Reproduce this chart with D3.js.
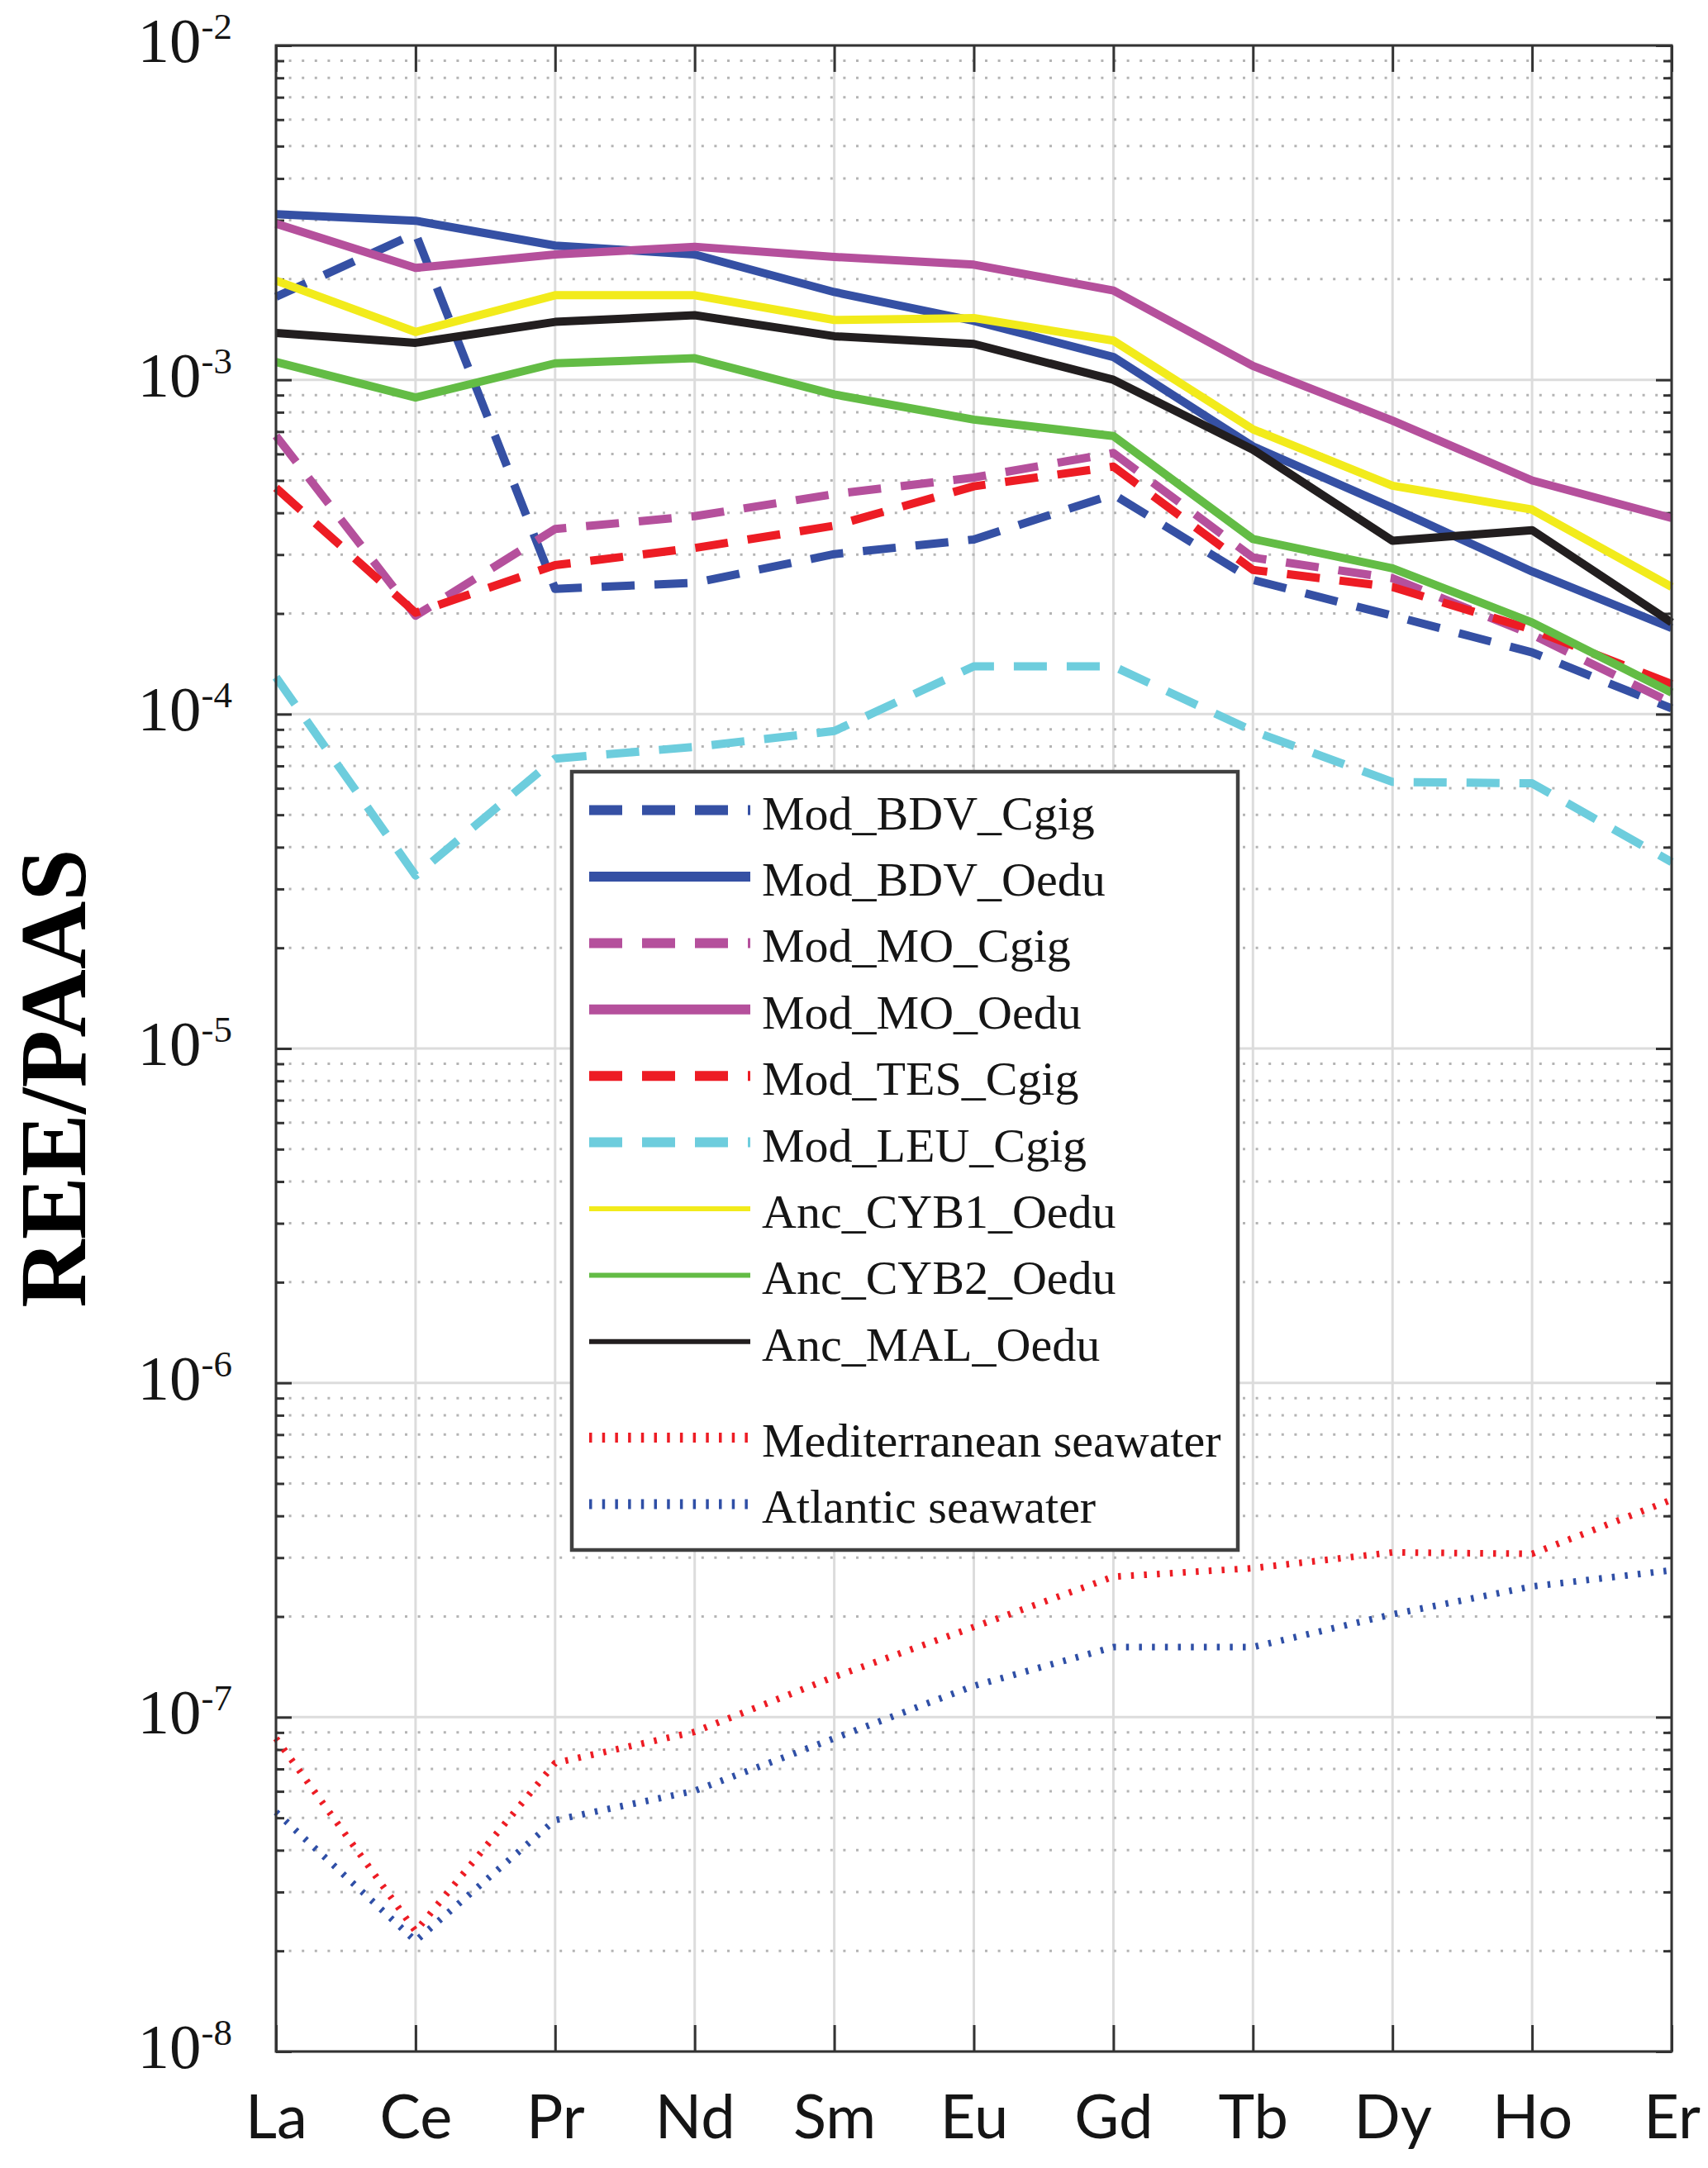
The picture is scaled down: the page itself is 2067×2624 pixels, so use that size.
<!DOCTYPE html>
<html>
<head>
<meta charset="utf-8">
<script src="https://cdn.jsdelivr.net/npm/d3@7/dist/d3.min.js"></script>
<style>
  html, body { margin: 0; padding: 0; background: #fff; }
  svg { display: block; }
</style>
</head>
<body>
<svg id="chart" width="2067" height="2624"></svg>
<script>
// ---------------- DATA ----------------
const categories = ["La","Ce","Pr","Nd","Sm","Eu","Gd","Tb","Dy","Ho","Er"];

const modBDVCgig = [1.77e-3, 2.74e-3, 2.37e-4, 2.47e-4, 3.01e-4, 3.33e-4, 4.54e-4, 2.52e-4, 1.97e-4, 1.53e-4, 1.04e-4];
const modBDVOedu = [3.13e-3, 2.99e-3, 2.52e-3, 2.37e-3, 1.83e-3, 1.50e-3, 1.17e-3, 6.32e-4, 4.14e-4, 2.67e-4, 1.81e-4];
const modMOCgig  = [6.8e-4, 1.97e-4, 3.58e-4, 3.91e-4, 4.55e-4, 5.1e-4, 6.04e-4, 2.94e-4, 2.55e-4, 1.73e-4, 1.08e-4];
const modMOOedu  = [2.93e-3, 2.16e-3, 2.37e-3, 2.50e-3, 2.33e-3, 2.21e-3, 1.85e-3, 1.10e-3, 7.55e-4, 5.0e-4, 3.86e-4];
const modTESCgig = [4.75e-4, 2.01e-4, 2.79e-4, 3.14e-4, 3.66e-4, 4.8e-4, 5.5e-4, 2.70e-4, 2.40e-4, 1.79e-4, 1.23e-4];
const modLEUCgig = [1.29e-4, 3.29e-5, 7.36e-5, 7.98e-5, 8.9e-5, 1.39e-4, 1.39e-4, 8.9e-5, 6.27e-5, 6.21e-5, 3.61e-5];
const ancCYB1Oedu = [1.98e-3, 1.39e-3, 1.79e-3, 1.79e-3, 1.51e-3, 1.53e-3, 1.31e-3, 7.11e-4, 4.82e-4, 4.09e-4, 2.40e-4];
const ancCYB2Oedu = [1.13e-3, 8.85e-4, 1.12e-3, 1.16e-3, 9.04e-4, 7.6e-4, 6.79e-4, 3.34e-4, 2.73e-4, 1.88e-4, 1.16e-4];
const ancMALOedu  = [1.38e-3, 1.29e-3, 1.49e-3, 1.56e-3, 1.35e-3, 1.28e-3, 1.0e-3, 6.18e-4, 3.30e-4, 3.55e-4, 1.88e-4];
const medSeawater = [8.64e-8, 2.29e-8, 7.29e-8, 9.04e-8, 1.32e-7, 1.86e-7, 2.63e-7, 2.79e-7, 3.11e-7, 3.08e-7, 4.47e-7];
const atlSeawater = [5.2e-8, 2.14e-8, 4.92e-8, 6.02e-8, 8.64e-8, 1.24e-7, 1.62e-7, 1.62e-7, 2.03e-7, 2.46e-7, 2.75e-7];

const yTickExponents = [-2, -3, -4, -5, -6, -7, -8];
const yLabel = "REE/PAAS";

const seriesNames = ["Mod_BDV_Cgig","Mod_BDV_Oedu","Mod_MO_Cgig","Mod_MO_Oedu","Mod_TES_Cgig","Mod_LEU_Cgig",
                     "Anc_CYB1_Oedu","Anc_CYB2_Oedu","Anc_MAL_Oedu","Mediterranean seawater","Atlantic seawater"];
const seriesValues = [modBDVCgig, modBDVOedu, modMOCgig, modMOOedu, modTESCgig, modLEUCgig,
                      ancCYB1Oedu, ancCYB2Oedu, ancMALOedu, medSeawater, atlSeawater];

// ---------------- STYLES ----------------
const C_BLUE = "#3550a4", C_MAG = "#b5509c", C_RED = "#ed1c24", C_CYAN = "#6dcddd",
      C_YEL = "#f2eb1b", C_GRN = "#63bc45", C_BLK = "#221e1f", C_SEABLUE = "#2f4fa6";
const styles = [
  {color: C_BLUE, type: "dash", w: 10, lw: 12},
  {color: C_BLUE, type: "solid", w: 10, lw: 12},
  {color: C_MAG,  type: "dash", w: 10, lw: 12},
  {color: C_MAG,  type: "solid", w: 10, lw: 12},
  {color: C_RED,  type: "dash", w: 10, lw: 12},
  {color: C_CYAN, type: "dash", w: 10, lw: 12},
  {color: C_YEL,  type: "solid", w: 10, lw: 6},
  {color: C_GRN,  type: "solid", w: 10, lw: 6},
  {color: C_BLK,  type: "solid", w: 10, lw: 6},
  {color: C_RED,  type: "dot", w: 8, lw: 12},
  {color: C_SEABLUE, type: "dot", w: 8, lw: 12}
];
const dashArr = t => t === "dash" ? "40 24" : (t === "dot" ? "3.5 12.2" : null);

// ---------------- LAYOUT ----------------
const L = 334, R = 2023, T = 55, B = 2483;
const svg = d3.select("#chart");
svg.append("rect").attr("width", 2067).attr("height", 2624).attr("fill", "#fff");

const x = d3.scalePoint().domain(categories).range([L, R]);
const y = d3.scaleLog().domain([1e-8, 1e-2]).range([B, T]);

const majors = yTickExponents.map(e => Math.pow(10, e));
const minors = [];
for (let e = -8; e < -2; e++) for (let k = 2; k <= 9; k++) minors.push(k * Math.pow(10, e));

// ---------------- GRID ----------------
const grid = svg.append("g");
grid.selectAll(".vg").data(categories).join("line")
  .attr("x1", d => x(d)).attr("x2", d => x(d)).attr("y1", T).attr("y2", B)
  .attr("stroke", "#dcdcdc").attr("stroke-width", 3);
grid.selectAll(".mg").data(minors).join("line")
  .attr("x1", L).attr("x2", R).attr("y1", d => y(d)).attr("y2", d => y(d))
  .attr("stroke", "#b4b4b4").attr("stroke-width", 3).attr("stroke-dasharray", "3 12.6");
grid.selectAll(".Mg").data(majors).join("line")
  .attr("x1", L).attr("x2", R).attr("y1", d => y(d)).attr("y2", d => y(d))
  .attr("stroke", "#dcdcdc").attr("stroke-width", 3);

// ---------------- AXES ----------------
const axisColor = "#333";
function styleAxis(g) {
  g.select(".domain").remove();
  g.selectAll(".tick line").attr("stroke", axisColor).attr("stroke-width", 3);
}
svg.append("g").attr("transform", `translate(0,${B})`)
  .call(d3.axisBottom(x).tickSizeInner(-32).tickSizeOuter(0))
  .call(styleAxis)
  .call(g => g.selectAll(".tick text")
      .attr("y", 105).attr("dy", null)
      .attr("font-family", "Lato, 'Open Sans', sans-serif")
      .attr("font-size", 74).attr("fill", "#151515"));
svg.append("g").attr("transform", `translate(0,${T})`)
  .call(d3.axisTop(x).tickSizeInner(-32).tickSizeOuter(0).tickFormat(() => ""))
  .call(styleAxis);
svg.append("g").attr("transform", `translate(${L},0)`)
  .call(d3.axisLeft(y).tickValues(majors).tickSizeInner(-19).tickSizeOuter(0).tickFormat(() => ""))
  .call(styleAxis);
svg.append("g").attr("transform", `translate(${L},0)`)
  .call(d3.axisLeft(y).tickValues(minors).tickSizeInner(-10).tickSizeOuter(0).tickFormat(() => ""))
  .call(styleAxis);
svg.append("g").attr("transform", `translate(${R},0)`)
  .call(d3.axisRight(y).tickValues(majors).tickSizeInner(-19).tickSizeOuter(0).tickFormat(() => ""))
  .call(styleAxis);
svg.append("g").attr("transform", `translate(${R},0)`)
  .call(d3.axisRight(y).tickValues(minors).tickSizeInner(-10).tickSizeOuter(0).tickFormat(() => ""))
  .call(styleAxis);

// y tick labels 10^n
const ylab = svg.append("g");
yTickExponents.forEach(e => {
  const t = ylab.append("text")
    .attr("x", 281).attr("y", y(Math.pow(10, e)) + 20)
    .attr("text-anchor", "end")
    .attr("font-family", "'Liberation Serif', 'Times New Roman', serif")
    .attr("fill", "#151515");
  t.append("tspan").attr("font-size", 77).text("10");
  t.append("tspan").attr("font-size", 45).attr("dy", -28).text(String(e));
});

// y axis title
svg.append("text")
  .attr("transform", "translate(103,1305) rotate(-90)")
  .attr("text-anchor", "middle")
  .attr("font-family", "'Liberation Serif', 'Times New Roman', serif")
  .attr("font-weight", "bold").attr("font-size", 114).attr("fill", "#000")
  .text(yLabel);

// ---------------- LINES ----------------
const line = d3.line().x((d, i) => x(categories[i])).y(d => y(d));
const linesG = svg.append("g");
seriesValues.forEach((vals, i) => {
  const s = styles[i];
  linesG.append("path").datum(vals)
    .attr("d", line)
    .attr("fill", "none")
    .attr("stroke", s.color)
    .attr("stroke-width", s.w)
    .attr("stroke-linejoin", "round")
    .attr("stroke-dasharray", dashArr(s.type));
});

// box
svg.append("rect").attr("x", L).attr("y", T).attr("width", R - L).attr("height", B - T)
  .attr("fill", "none").attr("stroke", axisColor).attr("stroke-width", 3);

// ---------------- LEGEND ----------------
const leg = svg.append("g");
leg.append("rect").attr("x", 692).attr("y", 934).attr("width", 806).attr("height", 942)
  .attr("fill", "#fff").attr("stroke", "#404040").attr("stroke-width", 4.5);
const rowY = i => i < 9 ? 980.6 + i * 80.4 : 1740 + (i - 9) * 80.4;
seriesNames.forEach((name, i) => {
  const s = styles[i];
  const yy = rowY(i);
  leg.append("line").attr("x1", 713).attr("x2", 908).attr("y1", yy).attr("y2", yy)
    .attr("stroke", s.color).attr("stroke-width", s.lw)
    .attr("stroke-dasharray", dashArr(s.type));
  leg.append("text").attr("x", 922).attr("y", yy + 23)
    .attr("font-family", "'Liberation Serif', 'Times New Roman', serif")
    .attr("font-size", 58).attr("fill", "#151515")
    .text(name);
});
</script>
</body>
</html>
